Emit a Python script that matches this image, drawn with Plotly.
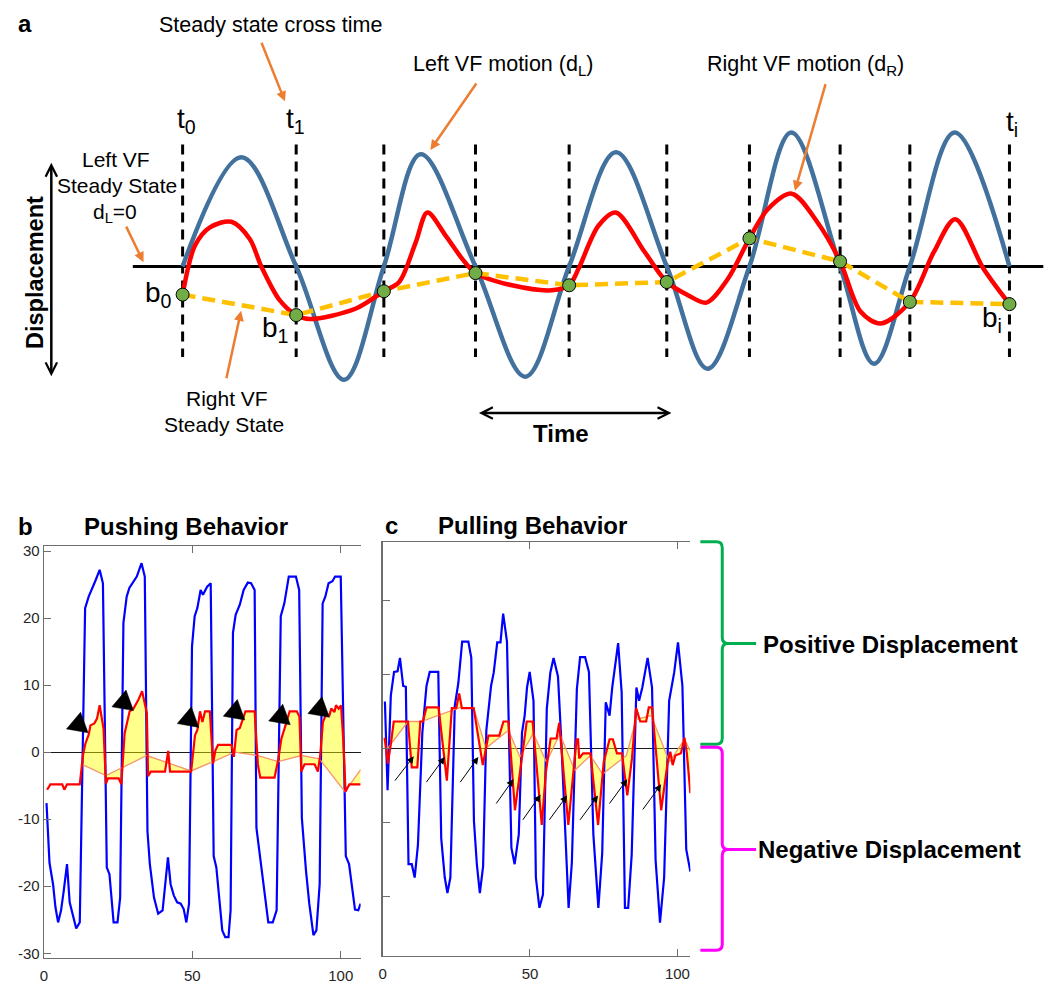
import numpy as np
import plotly.graph_objects as go

W, H = 1050, 991
FONT = "Liberation Sans, Arial, Helvetica, sans-serif"
ORANGE = "#ED7D31"

# ---------------- Panel a : schematic (time, displacement in arbitrary units) ----------------
a_cross_t = [0, 114, 202, 294, 388, 486, 569, 660, 730, 830]
a_steady_d = [-28.4, -49, -25, -6.7, -19, -15.7, 28.3, 5, -35.7, -38]
a_left_t = [0, 59, 114, 162, 202, 239, 294, 344, 388, 435, 486, 527, 569, 611, 660, 694, 730, 775, 830]
a_left_d = [0, 110, 0, -114, 0, 113, 0, -111, 0, 115, 0, -103, 0, 135, 0, -98, 0, 135, 0]
a_right_t = [0, 12.4, 27.4, 49, 67.4, 79, 97.4, 114, 127.4, 174, 202, 217.4, 234, 245.7, 264, 280.7,
             294, 330.7, 370.7, 388, 397.4, 417.4, 434.7, 464, 486, 507.4, 525.7, 547.4, 569, 587.4,
             611.4, 637.4, 660, 680.7, 700.7, 730, 754, 775.7, 804, 830]
a_right_d = [-28.4, 21, 39.3, 45, 27.6, 0, -34, -49, -53, -42.4, -25, -15.7, 24.3, 54.3, 31, 7.6,
             -6.7, -19, -24, -19, -2.4, 41, 54.3, 14.3, -15.7, -29, -36.4, -12.4, 28.3, 57.6,
             73.3, 44.3, 5, -45.7, -57.4, -35.7, 14.3, 47.6, -2.4, -38]
a_axis_t = [-50, 864]          # extent of the left-VF steady-state line
a_mark_d = [122.8, -91.2]      # extent of the cross-time markers

# ---------------- Panel b : pushing behaviour ----------------
b_blue_x = [0.9, 1.9, 3.1, 3.9, 4.8, 5.8, 6.7, 7.8, 8.7, 9.7, 10.9, 12.1, 13.2, 13.9, 15.1, 16.2, 17.3, 18.8, 19.9, 21.2,
            22.1, 23.5, 24.8, 25.7, 26.8, 27.9, 28.8, 31.3, 32.9, 34.0, 34.9, 35.7, 37.1, 38.5, 40.0, 41.8, 42.7, 43.8, 44.9, 46.1,
            47.1, 48.0, 48.9, 49.9, 50.8, 51.7, 52.8, 53.6, 55.0, 56.2, 57.2, 58.1, 59.0, 60.1, 61.1, 62.2, 62.9, 63.7, 64.6, 66.0,
            67.3, 68.7, 69.8, 71.0, 71.6, 73.0, 74.3, 75.6, 77.1, 78.4, 79.8, 81.0, 82.5, 84.9, 86.0, 86.9, 88.3, 89.4, 90.8, 91.8,
            92.9, 93.9, 94.8, 95.9, 97.2, 98.1, 100.0, 101.7, 102.8, 103.9, 104.8, 105.9, 106.7]
b_blue_y = [-7.6, -16.5, -19.7, -23.1, -25.4, -23.6, -20.7, -16.7, -22.4, -24.1, -26.3, -25.4, 6.0, 21.5, 23.2, 24.5, 25.5, 27.2, 25.2, -17.2,
            -18.2, -25.4, -25.4, -21.7, 19.3, 23.2, 24.5, 26.2, 28.2, 26.2, -11.8, -16.7, -21.7, -24.1, -23.6, -15.7, -19.7, -21.4, -22.4, -22.6,
            -23.4, -25.4, -22.6, 15.8, 20.3, 21.5, 24.2, 23.5, 24.7, 25.2, -15.5, -17.2, -21.7, -26.6, -27.6, -27.6, -23.6, 17.8, 20.5, 22.0,
            24.2, 25.3, 25.2, 24.2, -11.3, -16.2, -21.2, -25.4, -25.4, -23.6, 20.3, 22.2, 26.2, 26.2, 24.2, -9.8, -17.7, -22.6, -27.3, -26.6,
            -19.7, 22.2, 23.2, 25.2, 25.5, 26.2, 26.2, -15.5, -16.7, -20.2, -23.5, -23.6, -22.6]
b_red_x = [1.1, 2.2, 6.2, 6.9, 7.8, 12.1, 13.2, 14.0, 15.1, 15.7, 17.0, 17.9, 18.8, 20.1, 20.9, 21.6, 25.2, 26.1, 27.2, 28.0,
           28.9, 30.2, 31.7, 33.1, 34.7, 35.1, 36.0, 40.8, 41.9, 42.5, 49.6, 50.9, 51.7, 52.6, 53.4, 54.3, 55.9, 57.0, 57.8, 58.7,
           63.2, 64.0, 64.9, 66.0, 67.1, 67.9, 71.0, 72.1, 72.9, 77.7, 78.9, 80.0, 81.4, 82.8, 85.2, 86.1, 86.7, 87.8, 91.2, 92.3,
           93.1, 94.0, 95.1, 96.2, 96.8, 97.9, 98.4, 99.3, 100.1, 100.9, 101.6, 102.9, 106.7]
b_red_y = [-5.6, -4.8, -4.8, -5.6, -4.8, -4.8, -0.4, 1.3, 2.6, 4.0, 4.3, 5.0, 7.0, 3.5, -4.7, -3.9, -3.9, -4.8, 2.8, 4.5,
           6.1, 6.5, 7.7, 9.1, 5.8, -3.6, -2.9, -2.9, 0.2, -2.9, -2.9, 2.5, 3.3, 6.1, 4.5, 6.1, 6.1, -1.7, 0.3, 1.1,
           1.1, -0.7, 3.3, 3.6, 5.0, 6.1, 6.1, -1.9, -3.8, -3.8, -1.2, 2.0, 4.0, 6.1, 6.1, 5.3, -2.9, -1.8, -1.8, -2.9,
           -0.4, 4.5, 5.7, 5.5, 6.5, 6.0, 7.0, 6.5, 7.0, 1.5, -5.9, -4.8, -4.8]
b_ss_x = [13.2, 20.9, 34.7, 49.6, 57.0, 64.3, 72.1, 78.9, 86.7, 92.8, 101.4, 106.7]
b_ss_y = [-1.9, -3.5, -0.5, -2.8, -1.4, 0.0, -0.5, -1.4, -0.5, -1.0, -5.9, -2.6]
b_tip_x = [14.9, 30.2, 52.2, 67.7, 83.0, 96.2]
b_tip_y = [2.9, 6.2, 3.7, 4.8, 4.1, 5.2]
b_xticks = [0, 50, 100]
b_yticks = [-30, -20, -10, 0, 10, 20, 30]

# ---------------- Panel c : pulling behaviour ----------------
c_blue_x = [0.8, 1.7, 2.8, 3.9, 5.1, 5.9, 7.0, 7.9, 8.8, 9.9, 10.9, 12.0, 13.5, 14.9, 16.0, 18.9, 19.9, 21.1, 22.0, 23.0,
            24.5, 25.7, 27.0, 29.1, 30.1, 31.0, 32.0, 33.0, 34.1, 35.2, 36.8, 37.7, 38.9, 40.0, 40.9, 42.2, 43.7, 44.8, 46.2, 47.3,
            48.2, 49.0, 49.9, 51.2, 52.0, 53.2, 54.4, 55.7, 56.9, 58.0, 59.5, 60.6, 63.1, 64.2, 65.9, 67.0, 68.7, 70.0, 71.5, 73.2,
            74.5, 75.7, 77.0, 77.9, 79.9, 81.1, 82.2, 83.3, 84.5, 86.1, 87.0, 88.1, 89.9, 91.4, 92.6, 94.1, 95.5, 97.2, 98.9, 100.2,
            101.7, 103.0, 104.4]
c_blue_y = [6.4, -5.6, 7.2, 10.4, 10.5, 12.3, 8.5, 8.4, -15.6, -15.6, -17.4, -13.0, 2.2, 8.5, 10.4, 10.4, -12.1, -17.4, -19.5, -17.4,
            5.8, 8.9, 14.5, 14.5, 12.3, -9.8, -15.7, -19.5, -15.9, 2.5, 8.5, 10.3, 14.4, 14.4, 18.3, 14.5, -13.4, -15.6, -11.6, 2.2,
            4.5, 8.3, 10.4, 6.5, -17.4, -21.5, -19.7, 5.4, 10.3, 12.3, 9.8, 1.3, -21.5, -15.4, 8.1, 12.4, 12.4, 10.4, -11.6, -21.5,
            -14.1, 6.3, 4.5, 8.3, 14.3, 7.6, -21.5, -21.5, -14.3, 8.3, 6.5, 8.3, 12.3, 8.3, -15.0, -23.5, -17.4, 6.5, 10.3, 14.4,
            8.5, -13.6, -16.6]
c_red_x = [0.7, 1.8, 2.9, 3.8, 8.6, 9.9, 11.8, 12.8, 13.7, 14.9, 19.0, 21.8, 23.5, 25.0, 26.0, 26.9, 30.9, 34.0, 35.9, 39.6,
           41.0, 42.7, 44.9, 47.2, 48.9, 50.9, 54.0, 55.4, 57.0, 59.0, 59.9, 63.0, 64.6, 65.8, 66.3, 66.7, 68.0, 70.5, 73.1, 75.0,
           77.0, 78.1, 79.5, 81.2, 83.0, 84.6, 86.0, 87.4, 89.4, 90.3, 91.4, 94.5, 96.7, 97.6, 98.4, 99.3, 101.2, 102.4, 103.2, 104.4]
c_red_y = [1.5, -2.0, 0.9, 3.7, 3.7, -2.5, -2.5, 3.7, 3.7, 5.6, 5.6, -4.3, 5.5, 5.5, 7.5, 5.5, 5.5, -2.2, 1.8, 1.8,
           3.7, 3.7, -8.3, -1.6, 3.7, 3.7, -10.3, -3.1, 1.4, 1.4, 3.5, -10.3, -3.6, 1.3, 1.3, -1.3, -0.6, -0.6, -10.3, -1.8,
           1.3, 1.3, -0.6, -0.6, -6.3, -1.3, 5.5, 3.7, 3.7, 5.6, 5.6, -8.3, -1.8, -0.4, -2.2, -0.9, -0.6, 1.5, -0.6, -6.0]
c_ss_x = [1.8, 8.6, 13.1, 26.4, 30.9, 35.1, 42.7, 46.6, 51.1, 55.6, 60.1, 65.2, 70.5, 74.6, 82.7, 86.0, 91.1, 97.3, 102.4, 104.4]
c_ss_y = [0.1, 3.7, 3.7, 5.6, 5.5, 0.1, 2.5, -1.1, 2.1, -1.8, 2.0, -2.9, -0.9, -3.4, -0.9, 4.0, 4.5, -1.8, 1.3, -0.3]
c_arrow_tail_x = [3.8, 14.5, 26.0, 38.2, 47.2, 56.2, 66.6, 76.6, 87.9]
c_arrow_tail_y = [-4.5, -4.7, -4.7, -7.6, -9.8, -9.8, -9.8, -7.6, -8.4]
c_arrow_head_x = [10.6, 21.1, 32.5, 44.4, 53.6, 62.6, 73.1, 83.0, 94.5]
c_arrow_head_y = [-1.0, -1.1, -1.1, -4.1, -6.2, -6.3, -6.3, -4.1, -4.8]
c_xticks = [0, 50, 100]
c_yticks = [-20, -10, 0, 10, 20]

# ---------------- layout geometry (pixels) ----------------
A_X0, A_Y0 = 179.3, 264.3                     # origin of the schematic axes
B_BOX = dict(l=40, r=358, t=546, b=961, xr=[0, 106.7], yr=[-30.74, 30.74])
C_BOX = dict(l=380, r=689, t=542, b=958.3, xr=[0, 104.4], yr=[-27.95, 27.95])


def PX(x):
    return x / W


def PY(y):
    return 1 - y / H


fig = go.Figure()

# ---- panel a traces ----
fig.add_trace(go.Scatter(x=a_axis_t, y=[0, 0], mode="lines", line=dict(color="black", width=3),
                         xaxis="x", yaxis="y", hoverinfo="skip"))
vx, vy = [], []
for t in a_cross_t:
    vx += [t, t, None]
    vy += [a_mark_d[0], a_mark_d[1], None]
fig.add_trace(go.Scatter(x=vx, y=vy, mode="lines", line=dict(color="black", width=3, dash="10px,7px"),
                         xaxis="x", yaxis="y", hoverinfo="skip"))
fig.add_trace(go.Scatter(x=a_left_t, y=a_left_d, mode="lines",
                         line=dict(color="#41719C", width=4.5, shape="spline", smoothing=1),
                         xaxis="x", yaxis="y", hoverinfo="skip"))
fig.add_trace(go.Scatter(x=a_right_t, y=a_right_d, mode="lines",
                         line=dict(color="#FF0000", width=4.5, shape="spline", smoothing=0.9),
                         xaxis="x", yaxis="y", hoverinfo="skip"))
fig.add_trace(go.Scatter(x=a_cross_t, y=a_steady_d, mode="lines",
                         line=dict(color="#FFC000", width=4.5, dash="13px,7px"),
                         xaxis="x", yaxis="y", hoverinfo="skip"))
fig.add_trace(go.Scatter(x=a_cross_t, y=a_steady_d, mode="markers",
                         marker=dict(color="#70AD47", size=13, line=dict(color="black", width=1)),
                         xaxis="x", yaxis="y", hoverinfo="skip"))


def add_panel(xs_b, ys_b, xs_r, ys_r, xs_s, ys_s, xa, ya):
    lo, hi = xs_s[0], xs_s[-1]
    px_ = [x for x in xs_r if lo <= x <= hi]
    py_ = [y for x, y in zip(xs_r, ys_r) if lo <= x <= hi]
    poly_x = px_ + xs_s[::-1]
    poly_y = py_ + ys_s[::-1]
    fig.add_trace(go.Scatter(x=poly_x, y=poly_y, mode="lines", fill="toself",
                             fillcolor="rgba(255,255,0,0.45)", line=dict(width=0),
                             xaxis=xa, yaxis=ya, hoverinfo="skip"))
    fig.add_trace(go.Scatter(x=xs_b, y=ys_b, mode="lines", line=dict(color="#0000FF", width=2.2),
                             xaxis=xa, yaxis=ya, hoverinfo="skip"))
    fig.add_trace(go.Scatter(x=xs_s, y=ys_s, mode="lines", line=dict(color="rgb(244,150,110)", width=1.3),
                             xaxis=xa, yaxis=ya, hoverinfo="skip"))
    fig.add_trace(go.Scatter(x=xs_r, y=ys_r, mode="lines", line=dict(color="#FF0000", width=2.2),
                             xaxis=xa, yaxis=ya, hoverinfo="skip"))


add_panel(b_blue_x, b_blue_y, b_red_x, b_red_y, b_ss_x, b_ss_y, "x2", "y2")
add_panel(c_blue_x, c_blue_y, c_red_x, c_red_y, c_ss_x, c_ss_y, "x3", "y3")


# black arrowheads in panel b (equilateral triangles pointing at the tips)
def to_px(box, x, y):
    sx = (box["r"] - box["l"]) / (box["xr"][1] - box["xr"][0])
    sy = (box["b"] - box["t"]) / (box["yr"][1] - box["yr"][0])
    return box["l"] + (x - box["xr"][0]) * sx, box["b"] - (y - box["yr"][0]) * sy


def from_px(box, px, py):
    sx = (box["r"] - box["l"]) / (box["xr"][1] - box["xr"][0])
    sy = (box["b"] - box["t"]) / (box["yr"][1] - box["yr"][0])
    return box["xr"][0] + (px - box["l"]) / sx, box["yr"][0] + (box["b"] - py) / sy


ang = np.deg2rad(40)
dvec = np.array([np.cos(ang), np.sin(ang)])
nvec = np.array([-np.sin(ang), np.cos(ang)])
side = 22.0
hgt = side * np.sqrt(3) / 2
tx_all, ty_all = [], []
for tx, ty in zip(b_tip_x, b_tip_y):
    tip = np.array(to_px(B_BOX, tx, ty))
    base = tip - hgt * dvec
    for v in (tip, base + side / 2 * nvec, base - side / 2 * nvec, tip):
        x, y = from_px(B_BOX, v[0], v[1])
        tx_all.append(x)
        ty_all.append(y)
    tx_all.append(None)
    ty_all.append(None)
fig.add_trace(go.Scatter(x=tx_all, y=ty_all, mode="lines", fill="toself", fillcolor="black",
                         line=dict(color="black", width=0.5), xaxis="x2", yaxis="y2", hoverinfo="skip"))

# ---------------- annotations ----------------
ann = []


def text(px, py, s, size, bold=False, angle=0):
    ann.append(dict(x=PX(px), y=PY(py), xref="paper", yref="paper",
                    text=f"<b>{s}</b>" if bold else s, showarrow=False,
                    font=dict(size=size, color="black", family=FONT),
                    xanchor="center", yanchor="middle", textangle=angle))


def arrow(x0, y0, x1, y1, color, width, head, size, both=False):
    ann.append(dict(x=PX(x1), y=PY(y1), xref="paper", yref="paper", ax=x0 - x1, ay=y0 - y1,
                    axref="pixel", ayref="pixel", text="", showarrow=True, arrowhead=head,
                    startarrowhead=head, arrowsize=size, startarrowsize=size, arrowwidth=width,
                    arrowcolor=color, arrowside="end+start" if both else "end",
                    standoff=0, startstandoff=0))


text(21, 20, "a", 24, bold=True)
text(268, 21, "Steady state cross time", 21.5)
arrow(258, 38, 282, 98, ORANGE, 2.5, 2, 0.8)
text(501, 62, "Left VF motion (d<sub>L</sub>)", 21.5)
arrow(475, 79, 428, 147, ORANGE, 2.5, 2, 0.8)
text(805, 62, "Right VF motion (d<sub>R</sub>)", 21.5)
arrow(825, 80, 794, 188, ORANGE, 2.5, 2, 0.8)
text(112, 157, "Left VF", 21)
text(113, 183, "Steady State", 21)
text(111, 210, "d<sub>L</sub>=0", 21)
arrow(122, 223, 140, 260, ORANGE, 2.5, 2, 0.8)
text(224, 397, "Right VF", 21)
text(221, 423, "Steady State", 21)
arrow(223, 378, 238, 309, ORANGE, 2.5, 2, 0.8)
text(31, 270, "Displacement", 23.5, bold=True, angle=-90)
arrow(47.5, 160, 47.5, 375, "black", 2.5, 5, 0.9, both=True)
text(183, 117, "t<sub>0</sub>", 28)
text(293, 117, "t<sub>1</sub>", 28)
text(1012, 120, "t<sub>i</sub>", 28)
text(155, 293, "b<sub>0</sub>", 28)
text(272, 328, "b<sub>1</sub>", 28)
text(992, 318, "b<sub>i</sub>", 28)
text(559, 433, "Time", 24, bold=True)
arrow(476, 412, 670, 412, "black", 2.5, 5, 0.9, both=True)
text(22, 526, "b", 24, bold=True)
text(183, 526, "Pushing Behavior", 24, bold=True)
text(389, 525, "c", 24, bold=True)
text(531, 525, "Pulling Behavior", 24, bold=True)
text(889.5, 645, "Positive Displacement", 24, bold=True)
text(888.5, 852, "Negative Displacement", 24, bold=True)

for x0, y0, x1, y1 in zip(c_arrow_tail_x, c_arrow_tail_y, c_arrow_head_x, c_arrow_head_y):
    ann.append(dict(x=x1, y=y1, ax=x0, ay=y0, xref="x3", yref="y3", axref="x3", ayref="y3",
                    text="", showarrow=True, arrowhead=2, arrowsize=1.4, arrowwidth=1,
                    arrowcolor="black", standoff=0))


# ---------------- brackets ----------------
def bracket(xl, xs, xe, yt, ym, yb, r):
    pts = [("M", xl, yt), ("L", xs - r, yt), ("Q", xs, yt, xs, yt + r), ("L", xs, ym - r),
           ("Q", xs, ym, xs + r, ym), ("L", xe, ym), ("M", xs + r, ym), ("Q", xs, ym, xs, ym + r),
           ("L", xs, yb - r), ("Q", xs, yb, xs - r, yb), ("L", xl, yb)]
    out = []
    for p in pts:
        if p[0] == "Q":
            out.append(f"Q{PX(p[1])},{PY(p[2])} {PX(p[3])},{PY(p[4])}")
        else:
            out.append(f"{p[0]}{PX(p[1])},{PY(p[2])}")
    return " ".join(out)


shapes = [
    dict(type="path", xref="paper", yref="paper", path=bracket(699, 721, 755, 541.5, 644, 745.5, 6),
         line=dict(color="#00B050", width=3)),
    dict(type="path", xref="paper", yref="paper", path=bracket(699, 721, 755, 748.5, 851.5, 953, 6),
         line=dict(color="#FF00FF", width=3)),
]

axc = dict(showgrid=False, ticks="inside", ticklen=7, tickwidth=1, tickcolor="#6d6d6d",
           showline=True, linecolor="#6d6d6d", linewidth=1.2,
           tickfont=dict(size=15, color="#262626", family=FONT), fixedrange=True)

fig.update_layout(
    width=W, height=H, margin=dict(l=0, r=0, t=0, b=0, pad=0),
    paper_bgcolor="white", plot_bgcolor="rgba(0,0,0,0)", showlegend=False,
    font=dict(family=FONT, color="black"),
    xaxis=dict(domain=[0, 1], range=[-A_X0, W - A_X0], visible=False, fixedrange=True),
    yaxis=dict(domain=[0, 1], range=[A_Y0 - H, A_Y0], visible=False, fixedrange=True),
    xaxis2=dict(domain=[PX(B_BOX["l"]), PX(B_BOX["r"])], range=B_BOX["xr"], anchor="y2",
                tickvals=b_xticks, mirror="ticks", zeroline=False, ticklabelstandoff=4, **axc),
    yaxis2=dict(domain=[PY(B_BOX["b"]), PY(B_BOX["t"])], range=B_BOX["yr"], anchor="x2",
                tickvals=b_yticks, ticktext=[str(v) for v in b_yticks], zeroline=True,
                zerolinecolor="#1a1a1a", zerolinewidth=1.2, **axc),
    xaxis3=dict(domain=[PX(C_BOX["l"]), PX(C_BOX["r"])], range=C_BOX["xr"], anchor="y3",
                tickvals=c_xticks, mirror="ticks", zeroline=False, ticklabelstandoff=4, **axc),
    yaxis3=dict(domain=[PY(C_BOX["b"]), PY(C_BOX["t"])], range=C_BOX["yr"], anchor="x3",
                tickvals=c_yticks, showticklabels=False, zeroline=True,
                zerolinecolor="#1a1a1a", zerolinewidth=1.2, **axc),
    annotations=ann, shapes=shapes,
)

fig.write_html(
    "out.html",
    config={"displayModeBar": False, "staticPlot": True},
    post_script="document.body.style.margin='0';document.body.style.padding='0';"
                "document.documentElement.style.overflow='hidden';",
)
